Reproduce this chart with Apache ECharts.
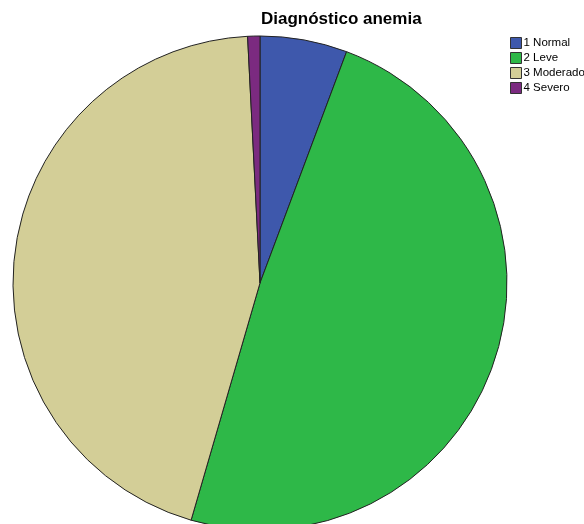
<!DOCTYPE html>
<html>
<head>
<meta charset="utf-8">
<script src="https://cdn.jsdelivr.net/npm/echarts@6/dist/echarts.min.js"></script>
<style>html,body{margin:0;padding:0;background:#fff;}#c{width:584px;height:524px;}</style>
</head>
<body>
<div id="c"></div>
<script>
const categories = ['1 Normal', '2 Leve', '3 Moderado', '4 Severo'];
const values = [5.7, 48.8, 44.7, 0.8];
const colors = ['#3E58AC', '#2EB848', '#D3CE97', '#7B2A80'];

const chart = echarts.init(document.getElementById('c'));
chart.setOption({
  animation: false,
  backgroundColor: '#ffffff',
  title: {
    text: 'Diagnóstico anemia',
    left: 261, top: 11, padding: 0,
    textStyle: { fontFamily: 'Liberation Sans, Arial', fontWeight: 'bold', fontSize: 17, color: '#000' }
  },
  legend: {
    orient: 'vertical', left: 510, top: 37, padding: 0,
    itemWidth: 11, itemHeight: 11, itemGap: 3,
    icon: 'rect',
    data: categories,
    textStyle: { fontFamily: 'Liberation Sans, Arial', fontSize: 11.5, color: '#000', padding: [0, 0, 0, -3] },
    itemStyle: { borderColor: '#333', borderWidth: 1 }
  },
  series: [{
    type: 'pie',
    center: [260, 283],
    radius: 247,
    startAngle: 90,
    clockwise: true,
    label: { show: false },
    labelLine: { show: false },
    emphasis: { disabled: true },
    itemStyle: { borderColor: '#222', borderWidth: 1 },
    data: categories.map((c, i) => ({ name: c, value: values[i], itemStyle: { color: colors[i] } }))
  }]
});
</script>
</body>
</html>
